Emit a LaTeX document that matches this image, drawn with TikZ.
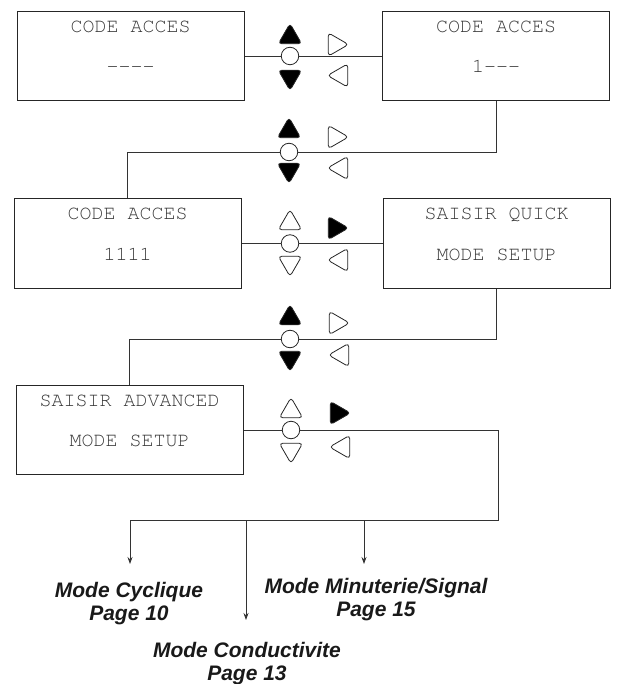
\documentclass[tikz,border=0pt]{standalone}
\usepackage{fontspec}
\usepackage{tikz}
\usetikzlibrary{shapes.geometric, arrows.meta, positioning}
\newfontfamily\lcdfont{TeX Gyre Cursor}
\newfontfamily\modefont{Liberation Sans}

\tikzset{
  screen/.style={draw=black!85, line width=1pt, minimum width=227pt, minimum height=89pt, inner sep=0pt},
  lcd/.style={font=\lcdfont\fontsize{20}{24}\selectfont, text=black!78, inner sep=0pt, text height=13pt, text depth=0pt},
  knob/.style={circle, draw=black!85, fill=white, line width=0.8pt, minimum size=17.5pt, inner sep=0pt},
  key/.style={regular polygon, regular polygon sides=3, draw=black!85, line width=0.8pt, minimum size=27pt, inner sep=0pt, rounded corners=3.5pt},
  on/.style={key, fill=black},
  off/.style={key, fill=white},
  kup/.style={shape border rotate=0},
  kdown/.style={shape border rotate=180},
  kright/.style={shape border rotate=-90},
  kleft/.style={shape border rotate=90},
  wire/.style={draw=black!80, line width=0.8pt},
  mode/.style={font=\modefont\bfseries\itshape\fontsize{21}{23}\selectfont, text=black!90, align=center, inner sep=0pt, anchor=north},
  >={Stealth[length=7pt, width=5pt]}
}

\begin{document}
\begin{tikzpicture}[x=1pt, y=-1pt]
	\useasboundingbox (0,0) rectangle (617,684);

	% screens
	\draw (130.5,56) node[screen] (s1) {}
		(496,56) node[screen] (s2) {}
		(127.5,243.5) node[screen] (s3) {}
		(496.5,243.5) node[screen] (s4) {}
		(129.5,430) node[screen] (s5) {};

	\draw (130.5,26) node[lcd] (s1a) {CODE ACCES}
		(130.5,66) node[lcd] (s1b) {-{}-{}-{}-}
		(496,26) node[lcd] (s2a) {CODE ACCES}
		(496,66) node[lcd] (s2b) {1-{}-{}-}
		(127.5,213.5) node[lcd] (s3a) {CODE ACCES}
		(127.5,253.5) node[lcd] (s3b) {1111}
		(496.5,213.5) node[lcd] (s4a) {SAISIR QUICK}
		(496.5,253.5) node[lcd] (s4b) {MODE SETUP}
		(129.5,400) node[lcd] (s5a) {SAISIR ADVANCED}
		(129.5,440) node[lcd] (s5b) {MODE SETUP};

	% keypads
	\draw (290,56) node[knob] (j1) {}
		(290,37) node[on,kup] (k1u) {}
		(290,77) node[on,kdown] (k1d) {}
		(335,44.5) node[off,kright] (k1r) {}
		(341,75.5) node[off,kleft] (k1l) {};
	\draw (289,152) node[knob] (j2) {}
		(289,131) node[on,kup] (k2u) {}
		(289,170) node[on,kdown] (k2d) {}
		(335,137) node[off,kright] (k2r) {}
		(341,168) node[off,kleft] (k2l) {};
	\draw (290,243.5) node[knob] (j3) {}
		(290,223) node[off,kup] (k3u) {}
		(290,263) node[off,kdown] (k3d) {}
		(335,228) node[on,kright] (k3r) {}
		(341,260) node[off,kleft] (k3l) {};
	\draw (290,339) node[knob] (j4) {}
		(290,318) node[on,kup] (k4u) {}
		(290,358) node[on,kdown] (k4d) {}
		(336,323) node[off,kright] (k4r) {}
		(342,355) node[off,kleft] (k4l) {};
	\draw (291,430) node[knob] (j5) {}
		(291,411) node[off,kup] (k5u) {}
		(291,450) node[off,kdown] (k5d) {}
		(337,413) node[on,kright] (k5r) {}
		(343,447) node[off,kleft] (k5l) {};

	% modes
	\draw (129,582) node[mode] (m1) {Mode Cyclique\\Page 10}
		(247,642) node[mode] (m2) {Mode Conductivite\\Page 13}
		(376,578) node[mode] (m3) {Mode Minuterie/Signal\\Page 15};

	\coordinate (b0) at (498,520);
	\coordinate (t1) at (130,564);
	\coordinate (t2) at (246,620);
	\coordinate (t3) at (364,564);

	\draw[wire] (s1) -- (j1) -- (s2);
	\draw[wire] (s2) |- (j2) -| (s3);
	\draw[wire] (s3) -- (j3) -- (s4);
	\draw[wire] (s4) |- (j4) -| (s5);
	\draw[wire] (s5) -- (j5);
	\draw[wire,->] (j5) -| (b0) -| (t1);
	\draw[wire,->] (t2 |- b0) -- (t2);
	\draw[wire,->] (t3 |- b0) -- (t3);
\end{tikzpicture}
\end{document}
